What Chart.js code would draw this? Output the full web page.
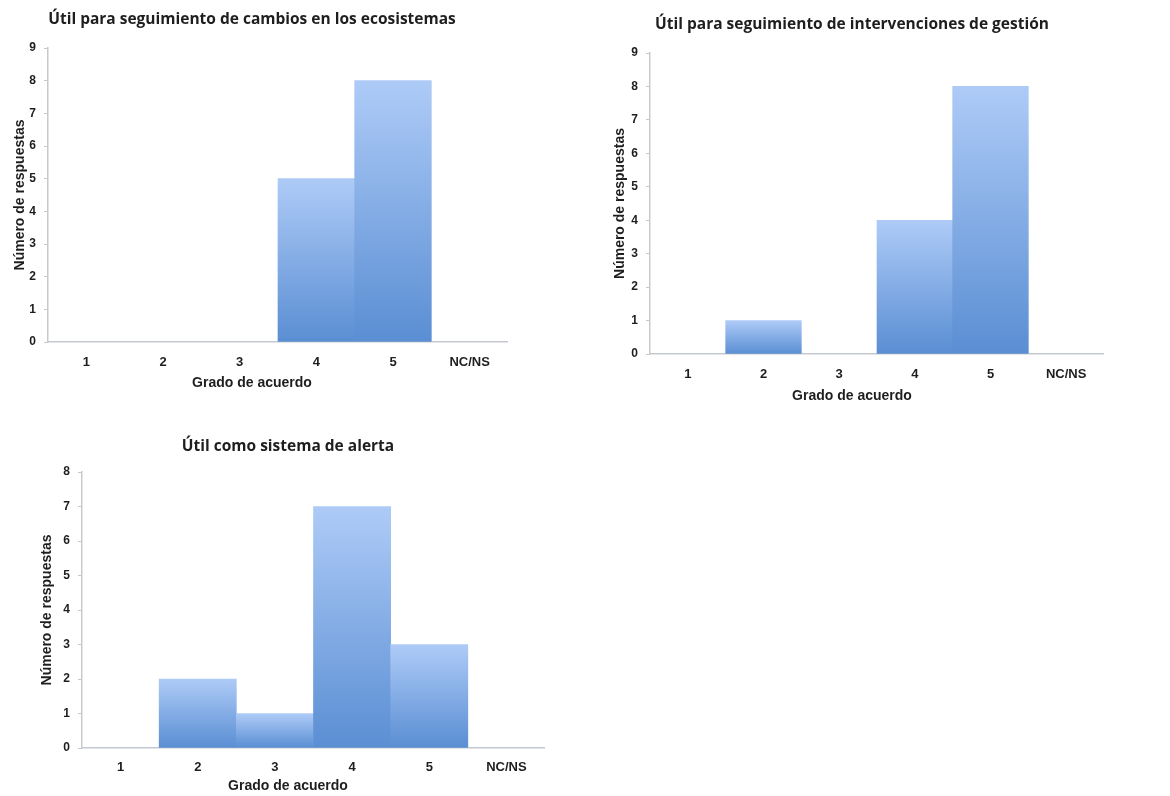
<!DOCTYPE html>
<html lang="es">
<head>
<meta charset="utf-8">
<title>Utilidad del sistema de seguimiento</title>
<script src="https://cdn.jsdelivr.net/npm/chart.js@4/dist/chart.umd.min.js"></script>
<style>
  html, body { margin: 0; padding: 0; background: #ffffff; }
  body { position: relative; width: 1170px; height: 796px; overflow: hidden; }
  .panel { position: absolute; }
</style>
</head>
<body>
<div class="panel" id="p1"><canvas id="c1"></canvas></div>
<div class="panel" id="p2"><canvas id="c2"></canvas></div>
<div class="panel" id="p3"><canvas id="c3"></canvas></div>
<script>
// Grado de acuerdo (categorías del eje X)
const categories = ['1', '2', '3', '4', '5', 'NC/NS'];

// Número de respuestas por grado de acuerdo
const ecosistemas = [0, 0, 0, 5, 8, 0];
const gestion     = [0, 1, 0, 4, 8, 0];
const alerta      = [0, 2, 1, 7, 3, 0];

const titles = [
  'Útil para seguimiento de cambios en los ecosistemas',
  'Útil para seguimiento de intervenciones de gestión',
  'Útil como sistema de alerta'
];
const xLabel = 'Grado de acuerdo';
const yLabel = 'Número de respuestas';
const yMax = [9, 9, 8];

const TEXT = '#1e1e1e';
const AXIS = '#c9c9c9';
const TOP_BLUE = '#aecbf7';
const BOTTOM_BLUE = '#5a8ed3';
const SANS = '"Liberation Sans", Arial, sans-serif';

// Vertical gradient for each bar, from its top down to the baseline
function barFill(ctx) {
  const chart = ctx.chart;
  const y = chart.scales.y;
  if (!chart.chartArea || !y || ctx.raw == null) return TOP_BLUE;
  const top = y.getPixelForValue(ctx.raw);
  const base = y.getPixelForValue(0);
  if (!(base > top)) return TOP_BLUE;
  const g = chart.ctx.createLinearGradient(0, top, 0, base);
  g.addColorStop(0, TOP_BLUE);
  g.addColorStop(1, BOTTOM_BLUE);
  return g;
}

function makeChart(id, panelId, data, idx, box) {
  const panel = document.getElementById(panelId);
  panel.style.left = box.left + 'px';
  panel.style.top = box.top + 'px';
  panel.style.width = box.width + 'px';
  panel.style.height = box.height + 'px';
  const canvas = document.getElementById(id);
  canvas.width = box.width;
  canvas.height = box.height;

  const xTickSize = 13;
  return new Chart(canvas, {
    type: 'bar',
    data: {
      labels: categories,
      datasets: [{
        data: data,
        backgroundColor: barFill,
        borderWidth: 0,
        barPercentage: 1,
        categoryPercentage: 1
      }]
    },
    options: {
      responsive: false,
      animation: false,
      events: [],
      layout: { padding: { left: 0, right: 0, top: 0, bottom: box.padBottom } },
      plugins: {
        legend: { display: false },
        tooltip: { enabled: false },
        title: {
          display: true,
          text: titles[idx],
          color: TEXT,
          font: { family: '"Open Sans", Lato, sans-serif', weight: 'bold', size: 15.5, lineHeight: 1.2 },
          padding: { top: box.titleTop, bottom: box.titleBottom }
        },
        subtitle: {
          display: true,
          position: 'bottom',
          text: xLabel,
          color: TEXT,
          font: { family: SANS, weight: 'bold', size: 14, lineHeight: 1.2 },
          padding: { top: box.xLabelTop, bottom: 0 }
        }
      },
      scales: {
        x: {
          afterFit(scale) { scale.height = box.xTickPad + xTickSize * 1.2; },
          grid: { display: false, drawTicks: false },
          border: { display: true, color: AXIS, width: 1.5 },
          ticks: {
            color: TEXT,
            padding: box.xTickPad,
            font: { family: SANS, weight: 'bold', size: xTickSize, lineHeight: 1.2 }
          }
        },
        y: {
          min: 0,
          max: yMax[idx],
          afterFit(scale) { scale.width = box.yWidth; },
          grid: { drawOnChartArea: false, drawTicks: true, tickLength: 4, color: AXIS },
          border: { display: true, color: AXIS, width: 1.5 },
          ticks: {
            stepSize: 1,
            color: TEXT,
            padding: 8,
            font: { family: SANS, weight: 'bold', size: 12, lineHeight: 1.2 }
          },
          title: {
            display: true,
            text: yLabel,
            color: TEXT,
            font: { family: SANS, weight: 'bold', size: 14, lineHeight: 1.2 },
            padding: { top: box.yTitlePad, bottom: 0 }
          }
        }
      }
    }
  });
}

makeChart('c1', 'p1', ecosistemas, 0, {
  left: -4, top: 0, width: 512, height: 396, padBottom: 4.6,
  titleTop: 10.7, titleBottom: 18.7, xTickPad: 13, xLabelTop: 4, yWidth: 52, yTitlePad: 15.5
});
makeChart('c2', 'p2', gestion, 1, {
  left: 600, top: 0, width: 504, height: 410, padBottom: 5.6,
  titleTop: 15.7, titleBottom: 18.7, xTickPad: 13, xLabelTop: 5, yWidth: 50, yTitlePad: 11.5
});
makeChart('c3', 'p3', alerta, 2, {
  left: 31, top: 420, width: 514, height: 376, padBottom: 1.6,
  titleTop: 17.7, titleBottom: 15.7, xTickPad: 12, xLabelTop: 2, yWidth: 51, yTitlePad: 7.5
});
</script>
</body>
</html>
